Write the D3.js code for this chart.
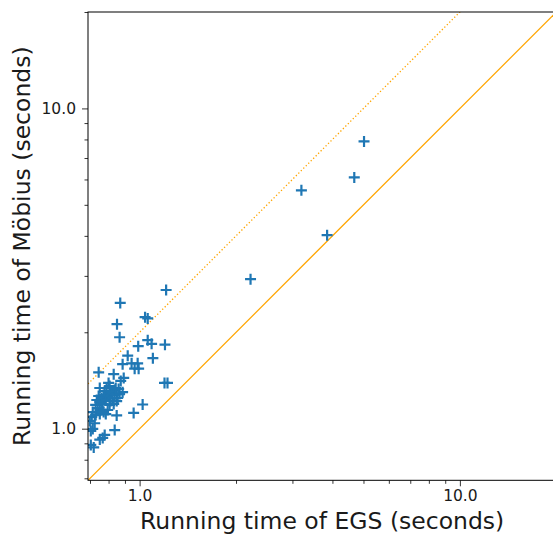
<!DOCTYPE html>
<html>
<head>
<meta charset="utf-8">
<script src="https://cdn.jsdelivr.net/npm/d3@7"></script>
<style>
  html, body { margin: 0; padding: 0; background: #fff; }
  svg { display: block; font-family: "DejaVu Sans", sans-serif; }
</style>
</head>
<body>
<svg id="chart" width="553" height="535"></svg>
<script>
// EGS running time (x) and Möbius running time (y), seconds
const egsTimes = [
  5.02, 4.68, 3.20, 3.85, 2.22, 1.21, 0.87, 1.04, 1.06, 0.85,
  0.866, 0.99, 1.06, 1.09, 1.20, 0.918, 1.10, 0.885, 0.944, 0.986,
  0.965, 0.993, 0.745, 0.830, 0.892, 0.873, 0.800, 1.196, 1.222, 0.751,
  0.836, 0.885, 1.022, 0.958, 0.848, 0.836, 0.778, 0.767, 0.751, 0.704,
  0.719, 0.709, 0.714, 0.724, 0.704, 0.714, 0.699, 0.729, 0.735, 0.745,
  0.751, 0.761, 0.772, 0.767, 0.784, 0.795, 0.806, 0.778, 0.789, 0.806,
  0.818, 0.824, 0.836, 0.848, 0.830, 0.854, 0.866, 0.806, 0.795, 0.761,
  0.740, 0.751, 0.772, 0.729, 0.784, 0.812, 0.842, 0.860
];
const mobiusTimes = [
  7.89, 6.09, 5.55, 4.02, 2.93, 2.71, 2.47, 2.23, 2.21, 2.12,
  1.93, 1.81, 1.89, 1.84, 1.83, 1.69, 1.66, 1.59, 1.60, 1.60,
  1.54, 1.54, 1.50, 1.48, 1.44, 1.41, 1.39, 1.39, 1.39, 1.34,
  1.32, 1.30, 1.19, 1.12, 1.10, 0.99, 0.956, 0.936, 0.925, 0.890,
  0.874, 1.088, 1.127, 1.040, 0.984, 0.998, 1.057, 1.186, 1.229, 1.265,
  1.211, 1.247, 1.274, 1.194, 1.229, 1.265, 1.293, 1.311, 1.340, 1.359,
  1.302, 1.247, 1.274, 1.220, 1.194, 1.247, 1.283, 1.186, 1.144, 1.144,
  1.160, 1.111, 1.127, 1.103, 1.111, 1.220, 1.340, 1.330
];
const axisDomain = [0.69, 20];
const majorTicks = [1, 10];
const majorTickLabels = ["1.0", "10.0"];
const minorTicks = [0.7, 0.8, 0.9, 2, 3, 4, 5, 6, 7, 8, 9, 20];
const refLineFactors = [1, 2];   // y = x (solid), y = 2x (dotted)
const xLabel = "Running time of EGS (seconds)";
const yLabel = "Running time of Möbius (seconds)";

const svg = d3.select("#chart");
const plotLeft = 88, plotTop = 12, plotSize = 468.3;
const x = d3.scaleLog().domain(axisDomain).range([plotLeft, plotLeft + plotSize]);
const y = d3.scaleLog().domain(axisDomain).range([plotTop + plotSize, plotTop]);

svg.append("clipPath").attr("id", "plotClip")
  .append("rect").attr("x", plotLeft).attr("y", plotTop).attr("width", plotSize).attr("height", plotSize);

const plot = svg.append("g").attr("clip-path", "url(#plotClip)");

// reference lines
const lineGen = d3.line().x(d => x(d[0])).y(d => y(d[1]));
refLineFactors.forEach((k, i) => {
  const pts = [axisDomain[0], axisDomain[1]].map(v => [v, v * k]);
  plot.append("path")
    .attr("d", lineGen(pts))
    .attr("fill", "none")
    .attr("stroke", "orange")
    .attr("stroke-width", 1.3)
    .attr("stroke-dasharray", i === 0 ? null : "1.3,2.2");
});

// markers
const m = 5.5;
const points = egsTimes.map((e, i) => [e, mobiusTimes[i]]);
plot.append("g").selectAll("path").data(points).join("path")
  .attr("d", d => {
    const cx = x(d[0]), cy = y(d[1]);
    return `M${cx - m},${cy}H${cx + m}M${cx},${cy - m}V${cy + m}`;
  })
  .attr("stroke", "#1f77b4")
  .attr("stroke-width", 2.2)
  .attr("fill", "none");

// axes
function styleAxis(g) {
  g.select(".domain").remove();
  g.selectAll("line").attr("stroke", "#000").attr("stroke-width", 0.8);
  g.selectAll("text").attr("fill", "#1a1a1a").attr("font-size", "15.5px")
    .attr("font-family", "DejaVu Sans");
}
const xb = svg.append("g").attr("transform", `translate(0,${plotTop + plotSize})`);
xb.append("g").call(d3.axisBottom(x).tickValues(majorTicks)
  .tickFormat((d, i) => majorTickLabels[i]).tickSize(6).tickPadding(4)).call(styleAxis);
xb.append("g").call(d3.axisBottom(x).tickValues(minorTicks).tickFormat("").tickSize(3.5)).call(styleAxis);

const yl = svg.append("g").attr("transform", `translate(${plotLeft},0)`);
yl.append("g").call(d3.axisLeft(y).tickValues(majorTicks)
  .tickFormat((d, i) => majorTickLabels[i]).tickSize(6).tickPadding(6)).call(styleAxis);
yl.append("g").call(d3.axisLeft(y).tickValues(minorTicks).tickFormat("").tickSize(3.5)).call(styleAxis);

// spines
svg.append("rect").attr("x", plotLeft).attr("y", plotTop).attr("width", plotSize).attr("height", plotSize)
  .attr("fill", "none").attr("stroke", "#000").attr("stroke-width", 1);

// labels
svg.append("text").attr("x", plotLeft + plotSize / 2).attr("y", 529)
  .attr("text-anchor", "middle").attr("font-size", "23.5px").attr("fill", "#1a1a1a")
  .text(xLabel);
svg.append("text").attr("transform", `translate(30,${plotTop + plotSize / 2}) rotate(-90)`)
  .attr("text-anchor", "middle").attr("font-size", "23.5px").attr("fill", "#1a1a1a")
  .text(yLabel);
</script>
</body>
</html>
